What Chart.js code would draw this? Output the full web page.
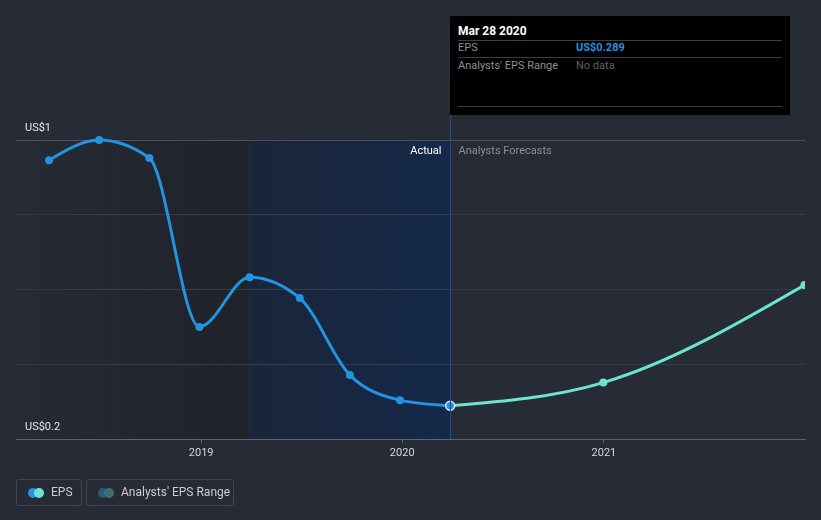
<!DOCTYPE html>
<html>
<head>
<meta charset="utf-8">
<script src="https://cdn.jsdelivr.net/npm/chart.js@4.4.1/dist/chart.umd.min.js"></script>
<style>
  html, body { margin:0; padding:0; background:#262b36; }
  body { width:821px; height:520px; position:relative; overflow:hidden; font-family: Roboto, "Open Sans", sans-serif; }
  #c { position:absolute; left:0; top:0; }
  .tip { position:absolute; left:450px; top:16px; width:340px; height:99px; background:#000; }
  .tip .title { position:absolute; left:8px; top:8px; color:#fff; font-weight:bold; font-size:12px; }
  .tip .hr { position:absolute; left:8px; width:324px; height:1px; background:#3a3d42; }
  .tip .lbl { position:absolute; left:8px; color:#8d9096; font-size:11px; }
  .tip .val { position:absolute; left:126px; font-size:11px; }
  .legend { position:absolute; top:479px; height:27px; border:1px solid #41464f; border-radius:3px; box-sizing:border-box; color:#c9ccd1; font-size:12px; line-height:25px; }
  .dots { position:absolute; top:8px; left:11px; width:16px; height:10px; }
  .dots span { position:absolute; top:0; width:10px; height:10px; border-radius:50%; }
</style>
</head>
<body>
<canvas id="c" width="821" height="520"></canvas>
<div class="tip">
  <div class="title" id="tipTitle"></div>
  <div class="hr" style="top:24px"></div>
  <div class="lbl" style="top:25px">EPS</div>
  <div class="val" id="tipVal" style="top:25px;color:#2394df;font-weight:bold"></div>
  <div class="hr" style="top:41px"></div>
  <div class="lbl" style="top:43px">Analysts' EPS Range</div>
  <div class="val" style="top:43px;color:#5d6066">No data</div>
  <div class="hr" style="top:90px"></div>
</div>
<div class="legend" style="left:16px;width:66px;">
  <div class="dots"><span style="left:0;background:#2394df"></span><span style="left:6px;background:#6ce5d0"></span></div>
  <span style="position:absolute;left:34px">EPS</span>
</div>
<div class="legend" style="left:86px;width:148px;">
  <div class="dots"><span style="left:0;background:#2d5b7d"></span><span style="left:6px;background:#3f6f6c"></span></div>
  <span style="position:absolute;left:34px">Analysts' EPS Range</span>
</div>
<script>
// ---- data ----
const actualDates = ['2018-03-31','2018-06-30','2018-09-29','2018-12-29','2019-03-30','2019-06-29','2019-09-28','2019-12-28','2020-03-28'];
const actualEps = [0.946, 1.0, 0.952, 0.50, 0.633, 0.577, 0.371, 0.304, 0.289];
const forecastDates = ['2020-03-28','2020-12-31','2021-12-31'];
const forecastEps = [0.289, 0.351, 0.612];
const yearTickDates = ['2019-01-01','2020-01-01','2021-01-01'];
const yearTickLabels = ['2019','2020','2021'];
const yLabels = { '0.2':'US$0.2', '1':'US$1' };
const xRange = ['2018-01-30','2022-01-01'];
const pastStart = '2019-03-28';
const tooltipTitle = 'Mar 28 2020';
const tooltipValue = 'US$0.289';

const t = s => Date.parse(s + 'T00:00:00Z');
document.getElementById('tipTitle').textContent = tooltipTitle;
document.getElementById('tipVal').textContent = tooltipValue;

const lastIdx = actualEps.length - 1;

// monotone-X (d3 style) control points computed in pixel space
function monotoneX(pts) {
  const n = pts.length;
  if (n < 3) return;
  const s = [], tg = new Array(n);
  for (let i = 0; i < n - 1; i++) s.push((pts[i+1].y - pts[i].y) / (pts[i+1].x - pts[i].x));
  for (let i = 1; i < n - 1; i++) {
    const h0 = pts[i].x - pts[i-1].x, h1 = pts[i+1].x - pts[i].x;
    const s0 = s[i-1], s1 = s[i];
    const p = (s0 * h1 + s1 * h0) / (h0 + h1);
    tg[i] = (Math.sign(s0) + Math.sign(s1)) * Math.min(Math.abs(s0), Math.abs(s1), 0.5 * Math.abs(p)) || 0;
  }
  tg[0] = (3 * s[0] - tg[1]) / 2;
  tg[n-1] = (3 * s[n-2] - tg[n-2]) / 2;
  for (let i = 0; i < n; i++) {
    const p = pts[i];
    if (i > 0) { const h = (p.x - pts[i-1].x) / 3; p.cp1x = p.x - h; p.cp1y = p.y - h * tg[i]; }
    else { p.cp1x = p.x; p.cp1y = p.y; }
    if (i < n - 1) { const h = (pts[i+1].x - p.x) / 3; p.cp2x = p.x + h; p.cp2y = p.y + h * tg[i]; }
    else { p.cp2x = p.x; p.cp2y = p.y; }
  }
}

const shade = {
  id: 'shade',
  beforeDraw(chart) {
    const {ctx, chartArea: a, scales: {x}} = chart;
    const xs = Math.round(x.getPixelForValue(t(pastStart)));
    const xe = x.getPixelForValue(t(actualDates[lastIdx]));
    ctx.save();
    let g = ctx.createLinearGradient(a.left, 0, xs, 0);
    g.addColorStop(0, 'rgba(31,35,42,0)');
    g.addColorStop(1, 'rgba(31,35,42,1)');
    ctx.fillStyle = g;
    ctx.fillRect(a.left, a.top, xs - a.left, a.bottom - a.top);
    g = ctx.createLinearGradient(xs, 0, xe, 0);
    g.addColorStop(0, '#1b2539');
    g.addColorStop(1, '#14294a');
    ctx.fillStyle = g;
    ctx.fillRect(xs, a.top, xe - xs, a.bottom - a.top);
    ctx.strokeStyle = '#1e2c45';
    ctx.lineWidth = 1;
    ctx.beginPath(); ctx.moveTo(xs + 0.5, a.top); ctx.lineTo(xs + 0.5, a.bottom); ctx.stroke();
    ctx.restore();
  },
  beforeDatasetsDraw(chart) {
    chart.data.datasets.forEach((ds, i) => {
      const meta = chart.getDatasetMeta(i);
      const line = meta.dataset;
      if (!line) return;
      line.updateControlPoints(chart.chartArea, 'x');
      monotoneX(line.points);
      line._path = undefined;
    });
  },
  afterDatasetsDraw(chart) {
    const {ctx, chartArea: a, scales: {x}} = chart;
    const xe = Math.round(x.getPixelForValue(t(actualDates[lastIdx]))) + 0.5;
    ctx.save();
    ctx.strokeStyle = '#1f4c85';
    ctx.lineWidth = 1;
    ctx.beginPath(); ctx.moveTo(xe, 115); ctx.lineTo(xe, a.bottom); ctx.stroke();
    ctx.font = '11px Roboto, sans-serif';
    ctx.textBaseline = 'middle';
    ctx.textAlign = 'right';
    ctx.fillStyle = '#ffffff';
    ctx.fillText('Actual', xe - 9, 151);
    ctx.textAlign = 'left';
    ctx.fillStyle = '#8a8f98';
    ctx.fillText('Analysts Forecasts', xe + 8, 151);
    ctx.restore();
  }
};

new Chart(document.getElementById('c'), {
  type: 'line',
  data: {
    datasets: [
      {
        label: 'Forecast',
        data: forecastDates.map((d, i) => ({x: t(d), y: forecastEps[i]})),
        borderColor: '#6ce5d0',
        backgroundColor: '#6ce5d0',
        borderWidth: 3,
        cubicInterpolationMode: 'monotone',
        capBezierPoints: false,
        pointRadius: ctx => ctx.dataIndex === 0 ? 0 : 4,
        pointBorderWidth: 0,
        clip: 0,
        order: 2
      },
      {
        label: 'EPS',
        data: actualDates.map((d, i) => ({x: t(d), y: actualEps[i]})),
        borderColor: '#2394df',
        backgroundColor: '#2394df',
        borderWidth: 3,
        cubicInterpolationMode: 'monotone',
        capBezierPoints: false,
        clip: 10,
        pointRadius: ctx => ctx.dataIndex === lastIdx ? 4.5 : 4,
        pointBorderColor: ctx => ctx.dataIndex === lastIdx ? '#dfe9f5' : '#2394df',
        pointBorderWidth: ctx => ctx.dataIndex === lastIdx ? 1.5 : 0,
        order: 1
      }
    ]
  },
  options: {
    responsive: false,
    animation: false,
    events: [],
    layout: { padding: { left: 16, right: 16, top: 140, bottom: 0 } },
    plugins: { legend: { display: false }, tooltip: { enabled: false } },
    scales: {
      x: {
        type: 'linear',
        min: t(xRange[0]),
        max: t(xRange[1]),
        afterBuildTicks: s => { s.ticks = yearTickDates.map(d => ({value: t(d)})); },
        afterFit: s => { s.height = 81; },
        grid: { drawOnChartArea: false, drawTicks: true, tickLength: 4, color: '#5d626b' },
        border: { display: true, color: '#5d626b', width: 1 },
        ticks: {
          color: '#d6d8dc',
          font: { family: 'Roboto', size: 11 },
          padding: 4,
          maxRotation: 0,
          autoSkip: false,
          callback: (v, i) => yearTickLabels[i]
        }
      },
      y: {
        min: 0.2,
        max: 1.0,
        afterFit: s => { s.width = 0; },
        border: { display: false },
        grid: {
          drawTicks: false,
          color: ctx => (ctx.tick && ctx.tick.value === 1) ? '#4b515b' : '#363c47',
          lineWidth: 1
        },
        ticks: {
          stepSize: 0.2,
          mirror: true,
          padding: 9,
          labelOffset: -12,
          color: '#e6e7ea',
          font: { family: 'Roboto', size: 11 },
          callback: v => yLabels[String(Math.round(v * 10) / 10)] || ''
        }
      }
    }
  },
  plugins: [shade]
});
</script>
</body>
</html>
